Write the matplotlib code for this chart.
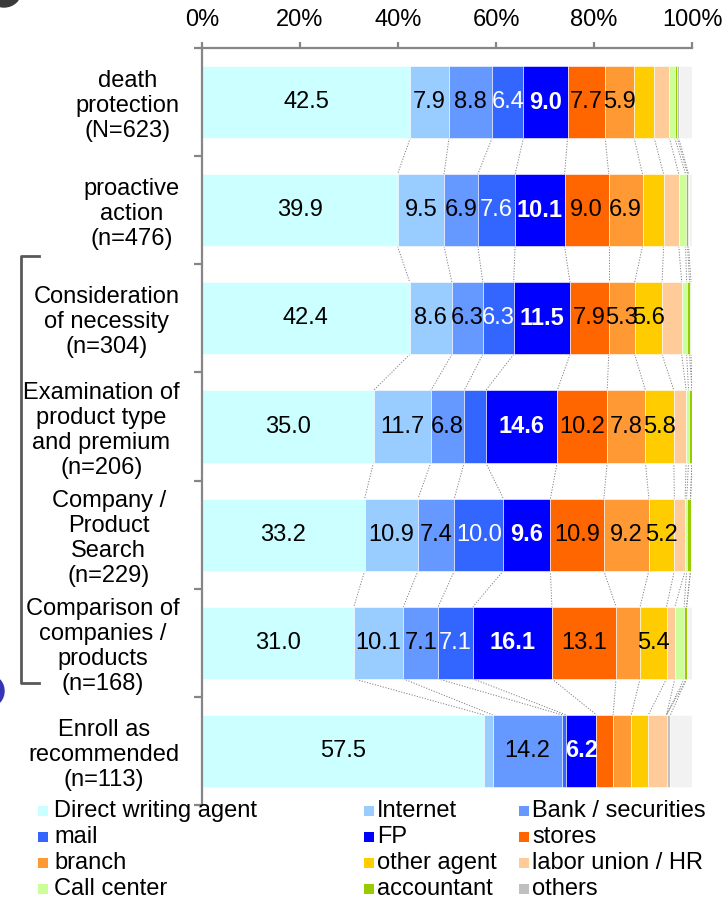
import matplotlib
matplotlib.use("Agg")
import matplotlib.pyplot as plt
import matplotlib.transforms as mtransforms
from matplotlib.patches import Rectangle, Ellipse
from matplotlib.lines import Line2D
import numpy as np

plt.rcParams['font.family'] = ['Liberation Sans', 'DejaVu Sans']

# ---- data (percent of respondents per channel, by stage) ----
categories = [
    "death\nprotection\n(N=623)",
    "proactive\naction\n(n=476)",
    "Consideration\nof necessity\n(n=304)",
    "Examination of\nproduct type\nand premium\n(n=206)",
    "Company /\nProduct\nSearch\n(n=229)",
    "Comparison of\ncompanies /\nproducts\n(n=168)",
    "Enroll as\nrecommended\n(n=113)",
]

direct_writing_agent = [42.5, 39.9, 42.4, 35.0, 33.2, 31.0, 57.5]
internet             = [7.9, 9.5, 8.6, 11.7, 10.9, 10.1, 1.8]
bank_securities      = [8.8, 6.9, 6.3, 6.8, 7.4, 7.1, 14.2]
mail                 = [6.4, 7.6, 6.3, 4.4, 10.0, 7.1, 0.8]
fp                   = [9.0, 10.1, 11.5, 14.6, 9.6, 16.1, 6.2]
stores               = [7.7, 9.0, 7.9, 10.2, 10.9, 13.1, 3.4]
branch               = [5.9, 6.9, 5.3, 7.8, 9.2, 4.9, 3.7]
other_agent          = [4.1, 4.3, 5.6, 5.8, 5.2, 5.4, 3.5]
labor_union_hr       = [3.1, 3.1, 4.0, 2.5, 2.2, 1.7, 3.7]
call_center          = [1.1, 1.4, 1.0, 0.5, 0.3, 1.9, 0.0]
accountant           = [0.5, 0.4, 0.6, 0.7, 0.8, 0.5, 0.0]
others               = [0.3, 0.2, 0.3, 0.0, 0.0, 0.0, 0.8]
unanswered           = [2.7, 0.7, 0.2, 0.0, 0.3, 1.1, 4.4]

series_names = ["Direct writing agent", "Internet", "Bank / securities",
                "mail", "FP", "stores",
                "branch", "other agent", "labor union / HR",
                "Call center", "accountant", "others"]

x_ticks = [0, 20, 40, 60, 80, 100]
x_tick_labels = ["0%", "20%", "40%", "60%", "80%", "100%"]

# ---- styling ----
series = [direct_writing_agent, internet, bank_securities, mail, fp, stores,
          branch, other_agent, labor_union_hr, call_center, accountant,
          others, unanswered]
colors = ["#ccffff", "#99ccff", "#6699ff", "#3366ff", "#0000ff", "#ff6600",
          "#ff9933", "#ffcc00", "#ffcc99", "#ccff99", "#99cc00", "#c0c0c0",
          "#f2f2f2"]
label_style = {0: ("black", "normal"), 1: ("black", "normal"),
               2: ("black", "normal"), 3: ("white", "normal"),
               4: ("white", "bold"), 5: ("black", "normal"),
               6: ("black", "normal"), 7: ("black", "normal")}
axis_gray = "#868686"
FS = 17

W, H = 727, 902
fig = plt.figure(figsize=(W / 100, H / 100), dpi=100)
ax = fig.add_axes([202 / W, 1 - 805 / H, 490 / W, (805 - 48) / H])

n_rows = len(categories)
y = np.arange(n_rows)
bar_h = 0.667
data = np.array(series)            # shape (n_series, n_rows)
cum = np.cumsum(data, axis=0)
lefts = cum - data

for s in range(data.shape[0]):
    ax.barh(y, data[s], left=lefts[s], height=bar_h, color=colors[s],
            edgecolor="white", linewidth=0.4, zorder=2)
    if s in label_style:
        col, wt = label_style[s]
        for r in range(n_rows):
            v = data[s, r]
            if v >= 5:
                ax.text(lefts[s, r] + v / 2, y[r], f"{v:.1f}", ha="center",
                        va="center", fontsize=FS, color=col, fontweight=wt,
                        zorder=4)

# series lines joining segment ends between neighbouring bars
for r in range(n_rows - 1):
    for s in range(data.shape[0]):
        ax.plot([cum[s, r], cum[s, r + 1]],
                [y[r] + bar_h / 2, y[r + 1] - bar_h / 2],
                color="#808080", lw=0.7, ls=(0, (1.2, 1.6)), zorder=1)

ax.set_xlim(0, 100)
ax.set_ylim(n_rows - 0.5, -0.5)

for side in ("right", "bottom"):
    ax.spines[side].set_visible(False)
for side in ("top", "left"):
    ax.spines[side].set_color(axis_gray)
    ax.spines[side].set_linewidth(1.6)

ax.xaxis.tick_top()
ax.set_xticks(x_ticks)
ax.set_xticklabels(x_tick_labels)
ax.tick_params(axis="x", direction="out", length=4.5, width=1.6,
               color=axis_gray, labelsize=FS, pad=7.5)

ax.set_yticks(y)
ax.set_yticklabels(categories)
ax.set_yticks(np.arange(-0.5, n_rows, 1.0), minor=True)
ax.tick_params(axis="y", which="major", length=0, labelsize=FS, pad=16)
ax.tick_params(axis="y", which="minor", direction="out", length=5.5,
               width=1.6, color=axis_gray)
for i, lab in enumerate(ax.get_yticklabels()):
    lab.set_multialignment("center")
    lab.set_linespacing(1.17)
    if i == 4:
        shift = mtransforms.ScaledTranslation(-0.14, 0, fig.dpi_scale_trans)
        lab.set_transform(lab.get_transform() + shift)


def fx(px):
    return px / W


def fy(py):
    return 1 - py / H


# bracket grouping the middle stages
fig.add_artist(Line2D([fx(39), fx(21), fx(21), fx(39)],
                      [fy(256), fy(256), fy(683), fy(683)],
                      color="#595959", lw=2.0, transform=fig.transFigure))

# decorative edge marks
fig.add_artist(Ellipse((fx(-9), fy(691)), 26 / W, 30 / H, color="#3434b4",
                       transform=fig.transFigure))
fig.add_artist(Ellipse((fx(4), fy(-9)), 34 / W, 32 / H, color="#3a3a3a",
                       transform=fig.transFigure))

# legend laid out in three columns
col_sq_x = [38, 364, 519]
col_tx_x = [54, 377, 532]
row_y = [811, 837, 863, 889]
sq = 10
for i, name in enumerate(series_names):
    r, c = divmod(i, 3)
    fig.add_artist(Rectangle((fx(col_sq_x[c]), fy(row_y[r] + sq / 2)),
                             sq / W, sq / H, facecolor=colors[i],
                             edgecolor="none", transform=fig.transFigure))
    fig.text(fx(col_tx_x[c]), fy(row_y[r]), name, ha="left", va="center",
             fontsize=FS)

fig.savefig("out.png", dpi=100)
